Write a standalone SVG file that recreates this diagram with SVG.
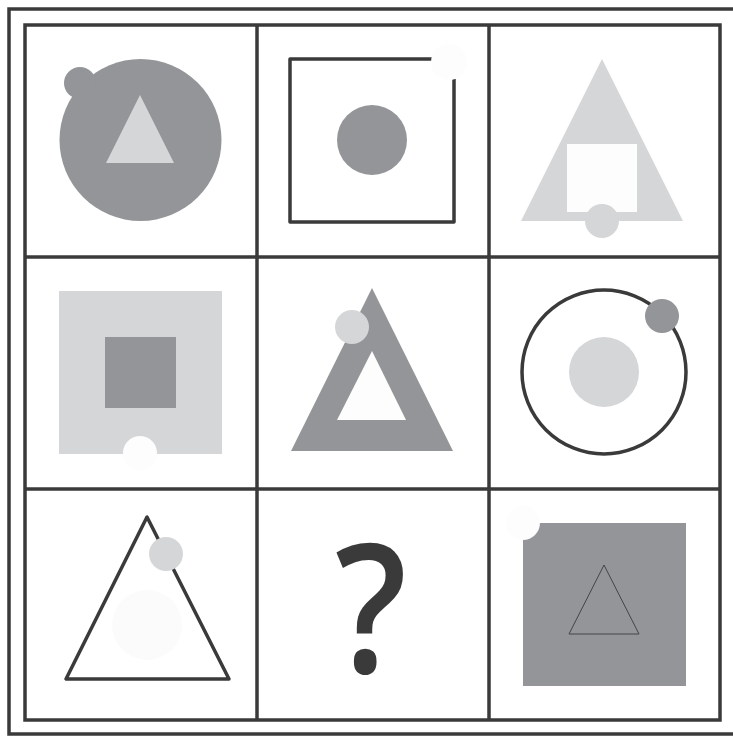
<svg xmlns="http://www.w3.org/2000/svg" width="733" height="736" viewBox="0 0 733 736">
  <style>
    .line { fill: none; stroke: #3a3a3a; stroke-width: 3.5; }
    .dark { fill: #939598; }
    .light { fill: #d5d6d8; }
    .white { fill: #fdfdfd; }
    .qm { font-family: "Open Sans", "Noto Sans", sans-serif; font-weight: 600; fill: #3a3a3a; }
  </style>
  <rect width="733" height="736" fill="#ffffff"/>
  <g id="frame">
    <rect class="line" x="9" y="9" width="735" height="725" stroke-width="3"/>
    <rect class="line" x="25" y="25" width="695" height="695"/>
    <line class="line" x1="257" y1="25" x2="257" y2="720"/>
    <line class="line" x1="489" y1="25" x2="489" y2="720"/>
    <line class="line" x1="25" y1="257" x2="720" y2="257"/>
    <line class="line" x1="25" y1="489" x2="720" y2="489"/>
  </g>
  <g id="cell-1-1">
    <circle class="dark" cx="140.5" cy="140" r="81"/>
    <circle class="dark" cx="80" cy="83" r="16"/>
    <polygon class="light" points="140,95 106,163 174,163"/>
  </g>
  <g id="cell-1-2">
    <path class="line" d="M432,59 H290 V222 H454 V79" stroke-linejoin="round"/>
    <circle class="white" cx="449" cy="62" r="18"/>
    <circle class="dark" cx="372" cy="140" r="35"/>
  </g>
  <g id="cell-1-3">
    <polygon class="light" points="602,59 521,221 683,221"/>
    <rect class="white" x="567" y="144" width="70" height="68"/>
    <circle class="light" cx="602" cy="221" r="17"/>
  </g>
  <g id="cell-2-1">
    <rect class="light" x="59" y="291" width="163" height="163"/>
    <rect class="dark" x="105" y="337" width="71" height="71"/>
    <circle class="white" cx="140" cy="453" r="17"/>
  </g>
  <g id="cell-2-2">
    <polygon class="dark" points="372,288 291,451 453,451"/>
    <polygon class="white" points="372,351 337,420 406,420"/>
    <circle class="light" cx="352" cy="327" r="17"/>
  </g>
  <g id="cell-2-3">
    <circle class="line" cx="604" cy="372" r="82"/>
    <circle class="light" cx="604" cy="372" r="35"/>
    <circle class="dark" cx="662" cy="316" r="17"/>
  </g>
  <g id="cell-3-1">
    <circle fill="#fbfbfb" cx="147" cy="625" r="35"/>
    <polygon class="line" points="147,517 66,679 229,679" stroke-linejoin="round"/>
    <circle class="light" cx="166" cy="554" r="17"/>
  </g>
  <g id="cell-3-2">
    <text class="qm" x="0" y="673" font-size="180" text-anchor="middle" transform="translate(371 0) scale(0.88 1)">?</text>
  </g>
  <g id="cell-3-3">
    <rect class="dark" x="523" y="523" width="163" height="163"/>
    <circle class="white" cx="523" cy="523" r="17"/>
    <polygon points="604,565 569,634 639,634" fill="none" stroke="#444446" stroke-width="1"/>
  </g>
  <g id="connectors"/>
</svg>
